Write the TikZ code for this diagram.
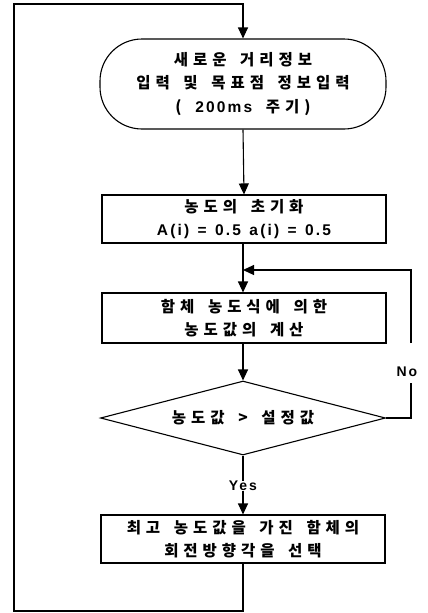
\documentclass[tikz,border=0pt]{standalone}
\usepackage{fontspec}
\setmainfont{Liberation Sans}
\newfontfamily\kr[LetterSpace=32,WordSpace=1.6]{Noto Sans CJK KR}
\newfontfamily\lat[LetterSpace=14,WordSpace=1.3]{Liberation Sans}
\usetikzlibrary{shapes.geometric,arrows.meta}
\begin{document}
\begin{tikzpicture}[x=1pt,y=1pt,
  line width=1.1pt,
  every node/.style={font=\kr\bfseries\fontsize{15.5}{23.5}\selectfont, align=center, inner sep=0pt},
  proc/.style={draw, minimum width=284pt},
  term/.style={draw, rounded corners=42pt, minimum width=286pt, minimum height=90pt},
  dec/.style={draw, diamond, aspect=3.85, minimum width=285pt, minimum height=74pt},
  lbl/.style={font=\lat\bfseries\fontsize{14}{16}\selectfont},
  arr/.style={-{Triangle[length=11pt,width=10pt]}}
]
\useasboundingbox (0,0) rectangle (428,-613);
\node[term] (t) at (243,-84) {새로운 거리정보\\입력 및 목표점 정보입력\\( {\lat 200ms} 주기)};
\node[proc, minimum height=48pt] (b1) at (244,-219) {농도의 초기화\\{\lat A(i) = 0.5 a(i) = 0.5}};
\node[proc, minimum height=50pt] (b2) at (244,-318) {함체 농도식에 의한\\농도값의 계산};
\node[dec] (d) at (243,-418) {농도값 > 설정값};
\node[lbl] (yes) at (243,-486) {Yes};
\node[lbl] (no) at (407,-372) {No};
\node[proc, minimum height=48pt] (b3) at (243,-539) {최고 농도값을 가진 함체의\\회전방향각을 선택};
\coordinate (bl) at (14,-611);
\coordinate (tl) at (14,-4);
\coordinate (tr) at (243,-4);
\coordinate (nA) at (411,-343);
\coordinate (nB) at (411,-383);
\coordinate (j) at (243,-270);
\draw[arr] (b3.south) |- (bl) -- (tl) -- (tr) -- (t.north);
\draw[arr] (t.south) -- (b1.north);
\draw[arr] (b1.south -| t.south) -- (b2.north -| t.south);
\draw[arr] (b2.south -| t.south) -- (d.north);
\draw (d.east) -| (nB);
\draw[arr] (nA) |- (j);
\draw (d.south) -- (yes.north);
\draw[arr] (yes.south) -- (b3.north);
\end{tikzpicture}
\end{document}
